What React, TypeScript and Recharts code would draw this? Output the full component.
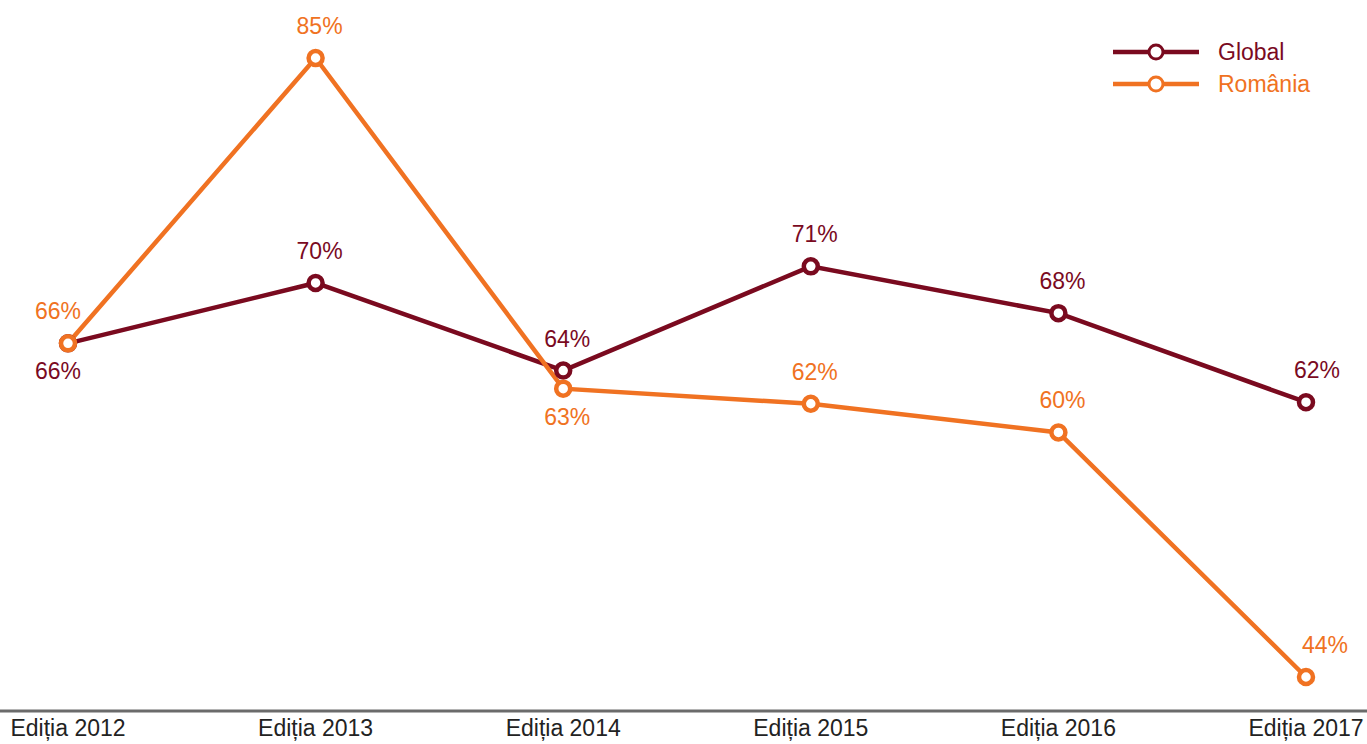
import React from 'react';
import { LineChart, Line, XAxis, YAxis } from 'recharts';

const categories = ['Ediția 2012', 'Ediția 2013', 'Ediția 2014', 'Ediția 2015', 'Ediția 2016', 'Ediția 2017'];
const globalValues = [66.1, 70.1, 64.3, 71.2, 68.1, 62.2];
const romaniaValues = [66.1, 85, 63.1, 62.1, 60.2, 44];
const globalLabelBelow = [true, false, false, false, false, false];
const romaniaLabelBelow = [false, false, true, false, false, false];

const GLOBAL_COLOR = '#7a0a1f';
const ROMANIA_COLOR = '#f07222';
const FONT = '"Liberation Sans", Arial, Helvetica, sans-serif';
const FS = 23;

const data = categories.map((c, i) => ({ name: c, global: globalValues[i], romania: romaniaValues[i] }));

const makeLabel = (color: string, below: boolean[], lastDx: number) => (props: any) => {
  const { x, y, value, index } = props;
  const isBelow = below[index];
  const dx = index === categories.length - 1 ? lastDx : index === 0 ? -10 : 4;
  return (
    <text
      x={x + dx}
      y={isBelow ? y + 28 : y - 32}
      textAnchor="middle"
      dominantBaseline="central"
      fill={color}
      fontSize={FS}
      fontFamily={FONT}
    >
      {Math.round(value)}%
    </text>
  );
};

const legendItems = [
  { label: 'Global', color: GLOBAL_COLOR },
  { label: 'România', color: ROMANIA_COLOR },
];

const LegendOverlay = () => (
  <svg width={220} height={70} style={{ position: 'absolute', left: 1110, top: 38 }}>
    {legendItems.map((it, i) => (
      <g key={it.label} transform={`translate(0, ${i * 32})`}>
        <line x1={3} y1={14} x2={89} y2={14} stroke={it.color} strokeWidth={4.5} />
        <circle cx={46} cy={14} r={7} fill="#fff" stroke={it.color} strokeWidth={3} />
        <text x={108} y={14} dominantBaseline="central" fill={it.color} fontSize={FS} fontFamily={FONT}>
          {it.label}
        </text>
      </g>
    ))}
  </svg>
);

export default function App() {
  return (
    <div style={{ position: 'absolute', left: 0, top: 0, width: 1367, height: 744, background: '#fff' }}>
      <LineChart width={1367} height={744} data={data} margin={{ top: 58, right: 0, bottom: 0, left: 0 }}>
        <XAxis
          dataKey="name"
          padding={{ left: 68, right: 61 }}
          axisLine={{ stroke: '#6b6b6b', strokeWidth: 3 }}
          tickLine={false}
          height={33}
          tick={{ fill: '#222', fontSize: FS, fontFamily: FONT }}
          tickMargin={3}
          interval={0}
        />
        <YAxis hide domain={[44, 85]} padding={{ top: 0, bottom: 34 }} />
        <Line
          dataKey="global"
          stroke={GLOBAL_COLOR}
          strokeWidth={4.5}
          dot={{ r: 7, fill: '#fff', stroke: GLOBAL_COLOR, strokeWidth: 4.5 }}
          activeDot={false}
          isAnimationActive={false}
          label={makeLabel(GLOBAL_COLOR, globalLabelBelow, 11)}
        />
        <Line
          dataKey="romania"
          stroke={ROMANIA_COLOR}
          strokeWidth={4.5}
          dot={{ r: 7, fill: '#fff', stroke: ROMANIA_COLOR, strokeWidth: 4.5 }}
          activeDot={false}
          isAnimationActive={false}
          label={makeLabel(ROMANIA_COLOR, romaniaLabelBelow, 19)}
        />
      </LineChart>
      <LegendOverlay />
    </div>
  );
}
